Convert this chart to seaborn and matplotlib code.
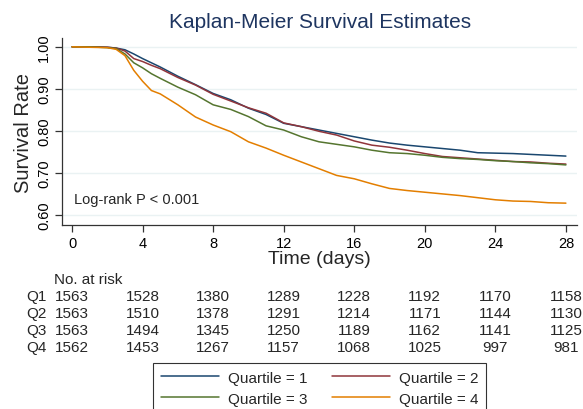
import numpy as np
import pandas as pd
import matplotlib
matplotlib.use("Agg")
import matplotlib.pyplot as plt
import matplotlib.transforms as mtransforms
import seaborn as sns

# ---- data ----
time = [0, 1, 2, 2.5, 3, 3.5, 4, 4.5, 5, 6, 7, 8, 9, 10, 11, 12, 13, 14,
        15, 16, 17, 18, 19, 20, 21, 22, 23, 24, 25, 26, 27, 28]
surv_q1 = [1.000, 1.000, 0.999, 0.997, 0.993, 0.983, 0.972, 0.962, 0.952,
           0.930, 0.910, 0.889, 0.874, 0.854, 0.839, 0.818, 0.810, 0.802,
           0.794, 0.786, 0.778, 0.771, 0.766, 0.762, 0.758, 0.754, 0.748,
           0.747, 0.746, 0.744, 0.742, 0.740]
surv_q2 = [1.000, 1.000, 0.999, 0.997, 0.990, 0.972, 0.965, 0.956, 0.948,
           0.927, 0.909, 0.887, 0.871, 0.855, 0.842, 0.819, 0.810, 0.799,
           0.790, 0.776, 0.766, 0.761, 0.754, 0.746, 0.739, 0.736, 0.733,
           0.730, 0.727, 0.726, 0.723, 0.721]
surv_q3 = [1.000, 1.000, 0.998, 0.996, 0.983, 0.962, 0.950, 0.936, 0.925,
           0.904, 0.886, 0.862, 0.851, 0.834, 0.812, 0.802, 0.786, 0.774,
           0.768, 0.762, 0.754, 0.748, 0.746, 0.742, 0.737, 0.734, 0.732,
           0.729, 0.727, 0.724, 0.722, 0.719]
surv_q4 = [1.000, 0.999, 0.998, 0.994, 0.979, 0.944, 0.918, 0.896, 0.888,
           0.862, 0.833, 0.814, 0.798, 0.774, 0.759, 0.742, 0.726, 0.710,
           0.694, 0.686, 0.674, 0.663, 0.658, 0.654, 0.650, 0.646, 0.641,
           0.636, 0.633, 0.632, 0.629, 0.628]

quartile_labels = ["Quartile = 1", "Quartile = 2", "Quartile = 3", "Quartile = 4"]
risk_times = [0, 4, 8, 12, 16, 20, 24, 28]
risk_groups = ["Q1", "Q2", "Q3", "Q4"]
risk_q1 = [1563, 1528, 1380, 1289, 1228, 1192, 1170, 1158]
risk_q2 = [1563, 1510, 1378, 1291, 1214, 1171, 1144, 1130]
risk_q3 = [1563, 1494, 1345, 1250, 1189, 1162, 1141, 1125]
risk_q4 = [1562, 1453, 1267, 1157, 1068, 1025, 997, 981]
y_ticks = [0.60, 0.70, 0.80, 0.90, 1.00]

colors = ["#1a476f", "#90353b", "#55752f", "#e37e00"]

# ---- build frame ----
frames = []
for lab, s in zip(quartile_labels, [surv_q1, surv_q2, surv_q3, surv_q4]):
    frames.append(pd.DataFrame({"time": time, "surv": s, "group": lab}))
df = pd.concat(frames, ignore_index=True)

sns.set_theme(style="white")
plt.rcParams["font.family"] = ["Liberation Sans", "DejaVu Sans"]

W, H = 583, 410
fig = plt.figure(figsize=(W / 100, H / 100), dpi=100)
ax = fig.add_axes([62 / W, 1 - 226 / H, (577 - 62) / W, (226 - 39) / H])

sns.lineplot(data=df, x="time", y="surv", hue="group", hue_order=quartile_labels,
             palette=colors, linewidth=1.1, ax=ax, legend=False, sort=False)

ax.set_xlim(-0.57, 28.63)
ax.set_ylim(0.576, 1.021)
ax.set_xticks(risk_times)
ax.set_xticklabels([str(t) for t in risk_times], fontsize=10.5)
ax.set_yticks(y_ticks)
ax.set_yticklabels([f"{v:.2f}" for v in y_ticks], fontsize=10.5, rotation=90, va="center")
ax.grid(axis="y", color="#eaf2f3", linewidth=1.0)
ax.set_axisbelow(True)
for side in ["top", "right"]:
    ax.spines[side].set_visible(False)
for side in ["left", "bottom"]:
    ax.spines[side].set_color("#333333")
    ax.spines[side].set_linewidth(0.9)
ax.tick_params(axis="both", direction="out", length=5, width=0.9, color="#333333",
               labelcolor="black", pad=3, left=True, bottom=True)
ax.set_xlabel("Time (days)", fontsize=14, labelpad=0)
ax.set_ylabel("Survival Rate", fontsize=14.5, labelpad=3)

fig.text(320 / W, 1 - 22 / H, "Kaplan-Meier Survival Estimates", ha="center", va="center",
         fontsize=15, color="#1e3560")

ax.text(74 / W, 1 - 200 / H, "Log-rank P < 0.001", transform=fig.transFigure,
        ha="left", va="center", fontsize=10.5)

# ---- risk table ----
trans = mtransforms.blended_transform_factory(ax.transData, fig.transFigure)
fig.text(54 / W, 1 - 280 / H, "No. at risk", ha="left", va="center", fontsize=11)
row_y = [297, 314, 331, 348]
for g, counts, yy in zip(risk_groups, [risk_q1, risk_q2, risk_q3, risk_q4], row_y):
    fig.text(36 / W, 1 - yy / H, g, ha="center", va="center", fontsize=11)
    for t, c in zip(risk_times, counts):
        ax.text(t, 1 - yy / H, str(c), transform=trans, ha="center", va="center",
                fontsize=11, clip_on=False)

# ---- legend (row-wise order: Q1 Q2 / Q3 Q4) ----
handles = [plt.Line2D([], [], color=c, linewidth=1.1) for c in colors]
order = [0, 2, 1, 3]
leg = fig.legend([handles[i] for i in order], [quartile_labels[i] for i in order],
                 ncol=2, loc="upper left",
                 bbox_to_anchor=(153 / W, 1 - 364 / H), frameon=True, fancybox=False,
                 fontsize=11, handlelength=3.8, handletextpad=0.6, columnspacing=1.6,
                 labelspacing=0.45, borderpad=0.5, borderaxespad=0)
leg.get_frame().set_edgecolor("black")
leg.get_frame().set_linewidth(0.8)

fig.savefig("out.png", dpi=100)
